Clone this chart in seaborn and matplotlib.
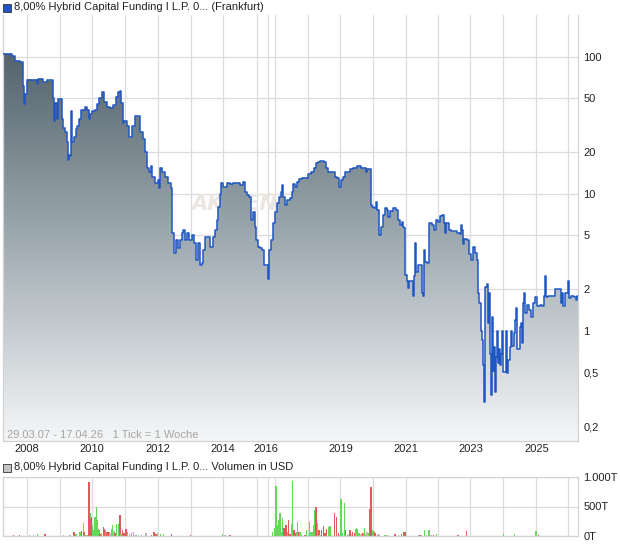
import numpy as np
import matplotlib
matplotlib.use("Agg")
import matplotlib.pyplot as plt
import matplotlib.transforms as mtransforms
from matplotlib.patches import Rectangle
from matplotlib.colors import LinearSegmentedColormap
from matplotlib.ticker import NullLocator
import seaborn as sns

# ---------------- data ----------------
tick_pos = [3, 12, 15, 20, 23, 24, 25, 27, 37, 38, 43, 47, 53, 54, 55, 57, 58, 62, 63, 65,
            67, 68, 69, 70, 71, 72, 74, 76, 77, 79, 81, 83, 85, 87, 89, 90, 92, 95, 97, 99,
            102, 104, 107, 110, 113, 116, 118, 120, 121, 123, 124, 127, 129, 132, 135, 137, 140, 143, 145, 147,
            149, 151, 152, 155, 158, 159, 160, 162, 165, 168, 171, 172, 174, 176, 178, 180, 182, 183, 185, 187,
            189, 192, 194, 196, 198, 200, 202, 203, 205, 208, 210, 213, 215, 217, 218, 220, 221, 223, 227, 230,
            233, 240, 243, 245, 247, 249, 251, 253, 255, 256, 258, 260, 262, 264, 268, 269, 271, 273, 275, 277,
            279, 281, 282, 283, 285, 287, 290, 292, 293, 295, 297, 299, 302, 308, 311, 314, 316, 318, 320, 324,
            326, 328, 332, 335, 337, 339, 341, 343, 345, 350, 353, 357, 361, 366, 367, 371, 372, 374, 376, 377,
            379, 381, 383, 385, 387, 388, 390, 393, 396, 398, 400, 402, 403, 404, 405, 407, 408, 409, 412, 413,
            414, 415, 416, 418, 422, 423, 424, 425, 427, 429, 432, 434, 436, 438, 440, 442, 444, 445, 446, 449,
            451, 457, 460, 461, 462, 463, 464, 467, 469, 471, 473, 475, 477, 478, 479, 481, 482, 483, 484, 485,
            487, 488, 489, 490, 491, 492, 493, 494, 495, 496, 497, 498, 499, 500, 501, 502, 503, 505, 506, 507,
            508, 510, 511, 512, 514, 515, 516, 517, 520, 521, 522, 523, 524, 525, 527, 529, 531, 533, 535, 537,
            540, 542, 544, 545, 546, 548, 552, 555, 561, 562, 563, 565, 568, 569, 571, 574, 576, 577, 578]
price = [105, 101, 93, 91, 61, 45, 53, 68, 63, 69, 65, 67, 50, 34, 46, 35, 49, 35, 30, 28,
         23.7, 17.5, 19, 18.7, 40, 23.7, 26, 29.4, 31, 35, 41, 41, 43, 41, 35, 38, 40, 41, 45, 50,
         55, 47, 43, 42.5, 44, 51, 55, 56, 46, 33, 34, 31, 25.7, 31, 37, 36.6, 28, 24.9, 20, 15.5,
         14.5, 15.8, 13.3, 12, 12.6, 11, 15.5, 14.3, 13.3, 12, 11, 5.2, 3.7, 4.6, 4.0, 4.6, 5.2, 5.4, 4.6, 5.2,
         4.6, 5.0, 4.4, 3.3, 4.4, 3.0, 3.1, 3.9, 4.8, 4.8, 4.1, 4.8, 5.4, 6.45, 8.0, 10, 12, 11.2, 12, 11.8,
         12, 11.6, 12.2, 10.3, 9.8, 9.5, 6.45, 7.3, 5.7, 4.6, 4.1, 4.0, 3.9, 3.0, 2.4, 3.9, 4.6, 6.1, 7.3, 8.6,
         9.5, 10.2, 11.6, 9.5, 8.3, 9.0, 9.3, 10.3, 11.8, 11.2, 12.2, 12.9, 13.1, 13.8, 14.5, 15.5, 16.6, 16.9, 17.2, 16.9,
         15.5, 14.5, 14.3, 13.3, 13.1, 11.2, 12.6, 13.3, 14.3, 15.2, 15.5, 16.0, 15.5, 14.5, 15.2, 8.3, 8.0, 7.9, 8.7, 7.6,
         5.0, 5.7, 7.0, 7.9, 7.6, 6.8, 7.5, 7.9, 7.6, 6.45, 5.9, 6.2, 5.7, 5.6, 2.55, 2.3, 2.05, 2.3, 2.3, 1.8,
         2.5, 4.4, 2.7, 3.0, 1.9, 1.8, 3.9, 3.2, 3.1, 6.1, 5.9, 5.4, 6.45, 6.2, 6.9, 7.0, 6.1, 5.2, 6.1, 5.4,
         5.3, 5.2, 5.1, 5.9, 5.4, 4.3, 4.7, 4.6, 3.6, 3.3, 4.1, 3.7, 3.3, 1.88, 1.6, 1.0, 0.85, 0.56, 0.30, 2.1,
         2.2, 1.13, 1.9, 0.68, 0.34, 1.25, 0.51, 0.76, 0.36, 0.64, 1.0, 0.58, 0.74, 0.56, 0.68, 1.0, 0.50, 0.50, 1.0, 0.49,
         0.61, 0.76, 1.0, 0.78, 0.96, 1.2, 1.46, 0.74, 1.06, 1.13, 0.81, 1.6, 1.88, 1.34, 1.54, 1.42, 1.25, 1.6, 1.77, 1.51,
         1.54, 1.51, 1.8, 2.5, 1.77, 1.8, 1.79, 2.0, 1.6, 1.88, 1.51, 1.9, 2.3, 1.72, 1.8, 1.77, 1.67, 1.8, 1.8]

vol_pos = [13.3, 19.3, 29.3, 33.3, 37.3, 40, 42, 45, 55, 63.3, 70, 74, 76, 80, 81.7, 83.3, 84, 86, 87.3,
           89, 89.7, 90.3, 91, 91.7, 92.3, 93.3, 94.3, 95, 95.7, 96.3, 97.3, 98.3, 99, 100, 101.3, 103.3,
           104.3, 105.3, 106.7, 108, 109.3, 110, 111.7, 112.7, 114, 115, 116.7, 118.3, 120, 121, 122.7, 124,
           126, 127.3, 129.3, 131.7, 133.3, 136, 138.3, 141.7, 146, 151.7, 154, 156, 157.3, 160.7, 163.3,
           166.7, 171.7, 175, 178, 181, 184, 190.7, 200, 203, 206, 209, 216, 222.7, 225, 230, 233, 240, 247,
           253, 272.7, 275, 276, 277.3, 278.7, 280, 281.3, 282.7, 284, 285, 286, 287.3, 288.7, 290, 291.7,
           292.7, 294, 295.3, 296.7, 297.7, 299, 300, 301.7, 305, 306.7, 308.3, 309.3, 310.3, 311.3, 312.3,
           313.3, 315, 316, 317.7, 319, 320, 321.7, 323.3, 325, 326.7, 329, 330, 331.7, 334.3, 336.7, 338.3,
           339.3, 341, 342.7, 344.3, 345.7, 347.7, 349, 350, 351.7, 352.7, 354.3, 355.7, 356.7, 357.7, 359,
           361, 362.3, 363.3, 364.3, 365.7, 367, 368.3, 370, 371, 372.3, 373.3, 374.3, 375.7, 377.7, 379,
           382, 385, 386.7, 388.3, 392.3, 395, 398.3, 401.7, 403.7, 405, 408.3, 411.7, 415, 418.3, 420,
           421.7, 424.3, 426.7, 429, 431, 433.3, 436.7, 451, 455, 458, 461, 466.3, 470, 475, 480, 485, 490,
           495, 503.3, 510, 514.3, 518, 520, 525, 530, 536, 538.3, 545, 550, 555, 560, 565, 570, 576.7]
vol_val = [17, 17, 17, 17, 34, 8, 8, 34, 8, 17, 17, 62, 34, 74, 91, 227, 74, 17, 17,
           915, 625, 387, 284, 329, 187, 102, 244, 329, 136, 488, 273, 119, 102, 34, 45, 159,
           119, 102, 62, 62, 62, 45, 119, 187, 91, 45, 204, 204, 358, 34, 102, 45,
           119, 74, 34, 45, 74, 17, 17, 17, 45, 17, 74, 34, 45, 34, 34,
           8, 34, 8, 8, 8, 8, 17, 8, 8, 8, 8, 8, 28, 17, 17, 8, 8, 8,
           8, 74, 136, 840, 187, 273, 398, 74, 301, 136, 45, 187, 74, 273, 34, 204,
           926, 102, 45, 62, 244, 74, 62, 17, 17, 102, 17, 244, 74, 74, 74,
           187, 443, 500, 227, 102, 17, 102, 170, 45, 119, 159, 170, 17, 398, 329, 45,
           17, 625, 45, 557, 102, 34, 17, 102, 34, 74, 45, 119, 136, 119, 45,
           34, 45, 45, 136, 34, 62, 45, 455, 830, 102, 91, 74, 45, 17, 34,
           8, 17, 17, 17, 8, 34, 17, 34, 62, 62, 8, 8, 8, 17, 17,
           17, 102, 17, 102, 17, 17, 34, 8, 8, 17, 8, 79, 8, 8, 8, 8, 8,
           8, 28, 8, 28, 8, 8, 8, 8, 85, 17, 8, 8, 8, 8, 8, 8, 8]
vol_dir = ['d', 'd', 'n', 'n', 'u', 'u', 'n', 'd', 'n', 'n', 'n', 'd', 'u', 'u', 'd', 'u', 'd', 'u', 'u',
           'd', 'd', 'u', 'd', 'd', 'u', 'u', 'd', 'u', 'u', 'u', 'u', 'd', 'u', 'd', 'u', 'd',
           'd', 'u', 'd', 'd', 'd', 'n', 'u', 'u', 'n', 'd', 'u', 'u', 'd', 'u', 'd', 'd',
           'd', 'u', 'u', 'u', 'u', 'u', 'n', 'n', 'n', 'd', 'd', 'd', 'u', 'u', 'u',
           'n', 'd', 'n', 'd', 'u', 'n', 'd', 'n', 'u', 'd', 'n', 'u', 'u', 'n', 'd', 'n', 'u', 'd',
           'n', 'u', 'u', 'u', 'u', 'u', 'u', 'u', 'u', 'd', 'd', 'd', 'u', 'd', 'd', 'u',
           'u', 'd', 'd', 'u', 'u', 'd', 'u', 'd', 'd', 'u', 'u', 'u', 'u', 'u', 'u',
           'u', 'u', 'd', 'u', 'd', 'n', 'd', 'd', 'd', 'd', 'u', 'u', 'n', 'd', 'd', 'd',
           'n', 'u', 'u', 'u', 'd', 'n', 'u', 'd', 'n', 'd', 'd', 'u', 'u', 'u', 'u',
           'n', 'd', 'u', 'u', 'n', 'n', 'u', 'd', 'd', 'u', 'u', 'd', 'd', 'd', 'n',
           'n', 'u', 'u', 'n', 'n', 'd', 'n', 'd', 'd', 'd', 'n', 'u', 'd', 'n', 'd',
           'n', 'u', 'n', 'u', 'n', 'd', 'u', 'd', 'n', 'd', 'u', 'd', 'n', 'd', 'u', 'd', 'n',
           'u', 'u', 'd', 'u', 'd', 'u', 'd', 'n', 'u', 'd', 'u', 'd', 'n', 'd', 'u', 'd', 'u']

grid_pos = [27, 60, 92, 125, 158, 191, 223, 257, 268, 275, 308, 340, 373, 406, 438, 470, 503, 536, 568]
year_pos = [27, 92, 158, 223, 266, 341, 406, 471, 537]
year_labels = ['2008', '2010', '2012', '2014', '2016', '2019', '2021', '2023', '2025']
price_ticks = [100, 50, 20, 10, 5, 2, 1, 0.5, 0.2]
price_tick_labels = ['100', '50', '20', '10', '5', '2', '1', '0,5', '0,2']
vol_ticks = [0, 500, 1000]
vol_tick_labels = ['0T', '500T', '1.000T']

title_main = '8,00% Hybrid Capital Funding I L.P. 0... (Frankfurt)'
title_vol = '8,00% Hybrid Capital Funding I L.P. 0... Volumen in USD'
footer = '29.03.07 - 17.04.26   1 Tick = 1 Woche'

# ---------------- style ----------------
sns.set_style('white')
plt.rcParams['font.family'] = ['Liberation Sans', 'DejaVu Sans']

W, H = 620, 546
fig = plt.figure(figsize=(W / 100, H / 100), dpi=100)
fig.patch.set_facecolor('white')

GRID = '#dcdcdc'
SPINE = '#d2d2d2'
LINE = '#1f56c3'
TXT = '#222222'


def fx(px):
    return px / W


def fy(py):
    return 1 - py / H


# ---------------- main price axes ----------------
ax = fig.add_axes([fx(3), fy(441), fx(575), 426 / H])
ax.set_yscale('log')
ax.set_xlim(3, 578)
ax.set_ylim(0.157, 201)
ax.set_autoscale_on(False)
ax.set_facecolor('white')

ax.set_xticks(grid_pos)
ax.set_xticklabels([''] * len(grid_pos))
ax.set_yticks(price_ticks)
ax.set_yticklabels(price_tick_labels)
ax.yaxis.set_minor_locator(NullLocator())
ax.yaxis.tick_right()
ax.tick_params(axis='both', length=0)
ax.tick_params(axis='y', pad=4, labelsize=8, labelcolor=TXT)
ax.set_axisbelow(True)
ax.grid(True, color=GRID, lw=0.9)
for s in ['left', 'bottom', 'right']:
    ax.spines[s].set_color(SPINE)
    ax.spines[s].set_linewidth(0.9)
ax.spines['top'].set_visible(False)

# faint watermark, drawn behind the gradient fill
wm_trans = mtransforms.blended_transform_factory(ax.transData, fig.transFigure)
ax.text(234, fy(204), 'AKTIEN', transform=wm_trans, ha='center', va='center',
        fontsize=15, fontweight='bold', fontstyle='italic', color='#ebe6e1',
        family='DejaVu Sans', zorder=0.6)

# gradient fill under the price line
poly = ax.fill_between(tick_pos, price, 1e-3, step='post', facecolor='none',
                       edgecolor='none', zorder=1)
cmap = LinearSegmentedColormap.from_list('g', ['#44545e', '#9aa6ad', '#f5f6f7'])
grad = np.linspace(0, 1, 512).reshape(-1, 1)
im = ax.imshow(grad, cmap=cmap, aspect='auto', extent=(0, 1, 0, 1),
               transform=ax.transAxes, origin='upper', zorder=2, interpolation='bilinear')
im.set_clip_path(poly.get_paths()[0], transform=ax.transData)

sns.lineplot(x=tick_pos, y=price, ax=ax, drawstyle='steps-post', color=LINE,
             lw=1.1, estimator=None, sort=False, zorder=3)
ax.set_xlim(3, 578)
ax.set_ylim(0.157, 201)
ax.set_xlabel('')
ax.set_ylabel('')

xt = mtransforms.blended_transform_factory(ax.transData, fig.transFigure)
for p, lab in zip(year_pos, year_labels):
    ax.text(p, fy(449.5), lab, transform=xt, ha='center', va='center',
            fontsize=8, color=TXT, clip_on=False)

fig.text(fx(7), fy(434.5), footer, fontsize=8, color='#a5a5a5', va='center', ha='left')

# titles
fig.add_artist(Rectangle((fx(3), fy(12)), 8 / W, 8 / H, transform=fig.transFigure,
                         facecolor=LINE, edgecolor='#333333', lw=0.6))
fig.text(fx(14.5), fy(7.5), title_main, fontsize=8, color=TXT, va='center', ha='left')
fig.add_artist(Rectangle((fx(3), fy(472)), 8 / W, 8 / H, transform=fig.transFigure,
                         facecolor='#c4c4c4', edgecolor='#333333', lw=0.6))
fig.text(fx(14.5), fy(467.5), title_vol, fontsize=8, color=TXT, va='center', ha='left')

# ---------------- volume axes ----------------
axv = fig.add_axes([fx(3), fy(536), fx(575), 59 / H])
axv.set_xlim(3, 578)
axv.set_ylim(0, 1000)
axv.set_xticks(grid_pos)
axv.set_xticklabels([''] * len(grid_pos))
axv.set_yticks(vol_ticks)
axv.set_yticklabels(vol_tick_labels)
axv.yaxis.tick_right()
axv.tick_params(axis='both', length=0)
axv.tick_params(axis='y', pad=4, labelsize=8, labelcolor=TXT)
axv.set_axisbelow(True)
axv.grid(True, color=GRID, lw=0.9)
for s in ['left', 'bottom', 'right', 'top']:
    axv.spines[s].set_color(SPINE)
    axv.spines[s].set_linewidth(0.9)

col_map = {'u': '#62d957', 'd': '#df5b5b', 'n': '#b8b8b8'}
axv.bar(vol_pos, vol_val, width=1.2, color=[col_map[d] for d in vol_dir],
        linewidth=0, zorder=2)

fig.savefig('out.png', dpi=100, facecolor='white')
